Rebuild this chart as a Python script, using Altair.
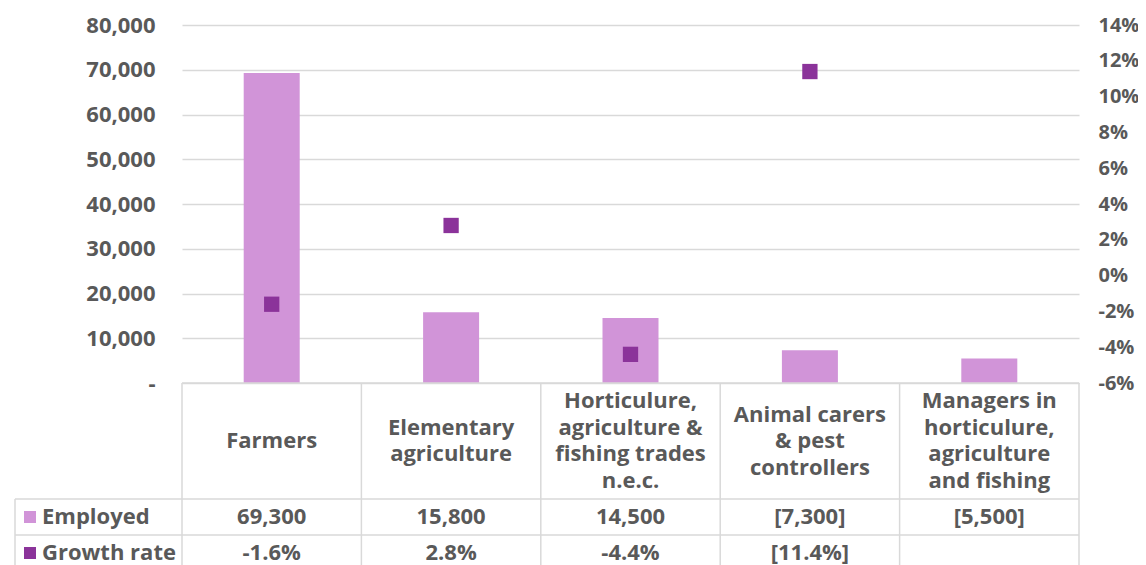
import altair as alt
import pandas as pd

# ---- data ----
categories = [
    "Farmers",
    "Elementary agriculture",
    "Horticulure, agriculture & fishing trades n.e.c.",
    "Animal carers & pest controllers",
    "Managers in horticulure, agriculture and fishing",
]
category_lines = [
    "Farmers",
    "Elementary\nagriculture",
    "Horticulure,\nagriculture &\nfishing trades\nn.e.c.",
    "Animal carers\n& pest\ncontrollers",
    "Managers in\nhorticulure,\nagriculture\nand fishing",
]
employed = [69300, 15800, 14500, 7300, 5500]
growth = [-0.016, 0.028, -0.044, 0.114, None]
employed_labels = ["69,300", "15,800", "14,500", "[7,300]", "[5,500]"]
growth_labels = ["-1.6%", "2.8%", "-4.4%", "[11.4%]", ""]
left_ticks = [0, 10000, 20000, 30000, 40000, 50000, 60000, 70000, 80000]
right_ticks = [-0.06, -0.04, -0.02, 0.0, 0.02, 0.04, 0.06, 0.08, 0.10, 0.12, 0.14]

W, H = 897, 358
LH = 26.5
HEADER_MID = 416

df = pd.DataFrame({
    "cat": categories,
    "catlabel": category_lines,
    "employed": employed,
    "growth": growth,
    "emp_lbl": employed_labels,
    "gr_lbl": growth_labels,
})
# vertical placement of the (multi-line) header text block, centred in its cell
df["hdr_y"] = [HEADER_MID - (s.count("\n")) * LH / 2 for s in category_lines]

FONT = "Open Sans"
TXT = "#595959"
GRID = "#D9D9D9"
BAR = "#D194D8"
DOT = "#8B339A"
FS = 22
FW = 700

xscale = alt.Scale(paddingInner=0, paddingOuter=0)
xenc = alt.X("cat:N", sort=categories, scale=xscale, axis=None)

bars = alt.Chart(df).mark_bar(size=56, color=BAR).encode(
    x=xenc,
    y=alt.Y("employed:Q", scale=alt.Scale(domain=[0, 80000], nice=False),
            axis=alt.Axis(orient="left", values=left_ticks, title=None, ticks=False, domain=False,
                          grid=True, gridColor=GRID, gridWidth=1.5, labelPadding=27,
                          labelExpr="datum.value == 0 ? '-   ' : format(datum.value, ',')")),
)

points = alt.Chart(df).mark_square(size=234, color=DOT, opacity=1).encode(
    x=xenc,
    y=alt.Y("growth:Q", scale=alt.Scale(domain=[-0.06, 0.14], nice=False),
            axis=alt.Axis(orient="right", values=right_ticks, title=None, ticks=False,
                          domain=False, grid=False, labelPadding=19, labelFontSize=20,
                          labelExpr="(datum.value < -0.0001 ? '-' : '') + format(abs(datum.value), '.0%')")),
)

one = pd.DataFrame({"a": [0]})

def hrule(y, x0, x1):
    return alt.Chart(one).mark_rule(color=GRID, strokeWidth=1.5).encode(
        x=alt.value(x0), x2=alt.value(x1), y=alt.value(y))

def vrule(x, y0, y1):
    return alt.Chart(one).mark_rule(color=GRID, strokeWidth=1.5).encode(
        x=alt.value(x), y=alt.value(y0), y2=alt.value(y1))

col_lines = alt.Chart(df).mark_rule(color=GRID, strokeWidth=1.5).encode(
    x=alt.X("cat:N", sort=categories, bandPosition=0, scale=xscale, axis=None),
    y=alt.value(H), y2=alt.value(H + 200),
)

cat_text = alt.Chart(df).mark_text(font=FONT, fontSize=FS, fontWeight=FW, color=TXT,
                                   lineBreak="\n", lineHeight=LH, baseline="middle",
                                   align="center").encode(
    x=xenc, y=alt.Y("hdr_y:Q", scale=None), text="catlabel:N")

emp_text = alt.Chart(df).mark_text(font=FONT, fontSize=FS, fontWeight=FW, color=TXT,
                                   baseline="middle", align="center").encode(
    x=xenc, y=alt.value(492), text="emp_lbl:N")

gr_text = alt.Chart(df).mark_text(font=FONT, fontSize=FS, fontWeight=FW, color=TXT,
                                  baseline="middle", align="center").encode(
    x=xenc, y=alt.value(528), text="gr_lbl:N")

rows = pd.DataFrame({"row": ["Employed", "Growth rate"], "ypos": [492, 528], "col": [BAR, DOT]})

row_text = alt.Chart(rows).mark_text(font=FONT, fontSize=FS, fontWeight=FW, color=TXT,
                                     baseline="middle", align="left").encode(
    x=alt.value(-140), y=alt.Y("ypos:Q", scale=None), text="row:N")

row_keys = alt.Chart(rows).mark_square(size=144, opacity=1).encode(
    x=alt.value(-152), y=alt.Y("ypos:Q", scale=None), color=alt.Color("col:N", scale=None))

chart = alt.layer(
    bars,
    points,
    hrule(H, 0, W),
    hrule(474, -167, W),
    hrule(510, -167, W),
    vrule(W, H, H + 200),
    vrule(-167, 474, H + 200),
    col_lines,
    cat_text,
    emp_text,
    gr_text,
    row_text,
    row_keys,
).resolve_scale(y="independent").properties(
    width=W, height=H,
    padding={"left": 174, "top": 17, "right": 59, "bottom": 182},
    autosize=alt.AutoSizeParams(type="none"),
).configure_view(stroke=None).configure_axis(
    labelFont=FONT, labelFontSize=FS, labelFontWeight=FW, labelColor=TXT,
)

chart.save("out.html", embed_options={"renderer": "svg", "actions": False})
